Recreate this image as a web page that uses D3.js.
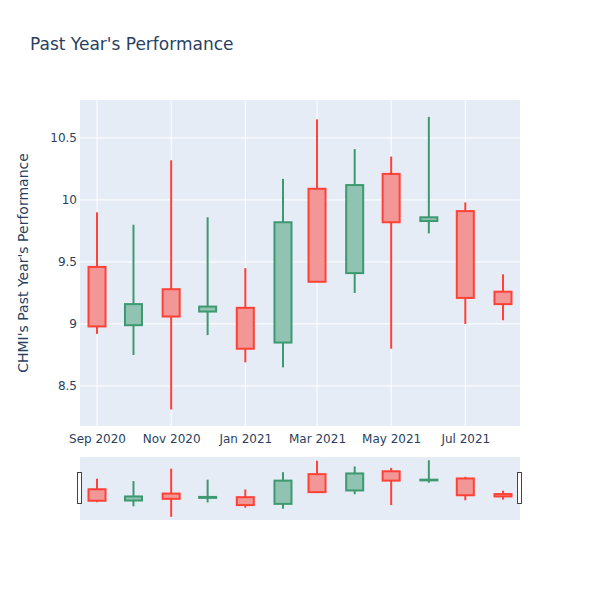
<!DOCTYPE html>
<html>
<head>
<meta charset="utf-8">
<script src="https://cdn.jsdelivr.net/npm/d3@7"></script>
<style>
  html, body { margin: 0; padding: 0; background: #fff; }
  svg { display: block; font-family: "DejaVu Sans", verdana, arial, sans-serif; }
</style>
</head>
<body>
<svg id="chart" width="600" height="600"></svg>
<script>
// ---- data ----
const dates = ["2020-09-01","2020-10-01","2020-11-01","2020-12-01","2021-01-01","2021-02-01",
               "2021-03-01","2021-04-01","2021-05-01","2021-06-01","2021-07-01","2021-08-01"];
const openVals  = [9.46, 8.99, 9.28, 9.10, 9.13, 8.85, 10.09, 9.41, 10.21, 9.83, 9.91, 9.26];
const highVals  = [9.90, 9.80, 10.32, 9.86, 9.45, 10.17, 10.65, 10.41, 10.35, 10.67, 9.98, 9.40];
const lowVals   = [8.92, 8.75, 8.31, 8.91, 8.69, 8.65, 9.34, 9.25, 8.80, 9.73, 9.00, 9.03];
const closeVals = [8.98, 9.16, 9.06, 9.14, 8.80, 9.82, 9.34, 10.12, 9.82, 9.86, 9.21, 9.16];
const yTicks = [8.5, 9, 9.5, 10, 10.5];
const xTickDates = ["2020-09-01","2020-11-01","2021-01-01","2021-03-01","2021-05-01","2021-07-01"];
const titleText = "Past Year's Performance";
const yTitleText = "CHMI's Past Year's Performance";

const FONT = "DejaVu Sans, verdana, arial, sans-serif";
const parse = d3.utcParse("%Y-%m-%d");
const data = dates.map((d, i) => ({
  date: parse(d), open: openVals[i], high: highVals[i], low: lowVals[i], close: closeVals[i]
}));

const inc = "#3D9970", dec = "#FF4136";
const svg = d3.select("#chart");

const plot = {left: 80, right: 520, top: 100, bottom: 426};
const slider = {top: 457, bottom: 520};

const x = d3.scaleUtc()
  .domain([parse("2020-08-18"), parse("2021-08-15")])
  .range([plot.left, plot.right]);
const y = d3.scaleLinear().domain([8.177, 10.806]).range([plot.bottom, plot.top]);
const ys = d3.scaleLinear().domain([8.177, 10.806]).range([slider.bottom, slider.top]);

// title
svg.append("text").attr("x", 30).attr("y", 50)
  .attr("font-size", 17).attr("fill", "#2a3f5f").attr("font-family", FONT).text(titleText);

// plot background
svg.append("rect").attr("x", plot.left).attr("y", plot.top)
  .attr("width", plot.right - plot.left).attr("height", plot.bottom - plot.top)
  .attr("fill", "#e5ecf6");

// grid lines
const xt = xTickDates.map(parse);
svg.append("g").selectAll("line").data(xt).join("line")
  .attr("x1", d => x(d)).attr("x2", d => x(d))
  .attr("y1", plot.top).attr("y2", plot.bottom)
  .attr("stroke", "#fff").attr("stroke-width", 1);
svg.append("g").selectAll("line").data(yTicks).join("line")
  .attr("x1", plot.left).attr("x2", plot.right)
  .attr("y1", d => y(d)).attr("y2", d => y(d))
  .attr("stroke", "#fff").attr("stroke-width", 1);

// axes (labels only)
const xAxis = d3.axisBottom(x).tickValues(xt).tickFormat(d3.utcFormat("%b %Y")).tickSize(0).tickPadding(8);
const gx = svg.append("g").attr("transform", `translate(0,${plot.bottom})`).call(xAxis);
gx.select(".domain").remove();
gx.selectAll("text").attr("font-size", 12).attr("fill", "#2a3f5f").attr("font-family", FONT);

const yAxis = d3.axisLeft(y).tickValues(yTicks).tickFormat(d => String(d)).tickSize(0).tickPadding(3);
const gy = svg.append("g").attr("transform", `translate(${plot.left},0)`).call(yAxis);
gy.select(".domain").remove();
gy.selectAll("text").attr("font-size", 12).attr("fill", "#2a3f5f").attr("font-family", FONT);

// y title
svg.append("text")
  .attr("transform", `translate(28,${(plot.top + plot.bottom) / 2}) rotate(-90)`)
  .attr("text-anchor", "middle").attr("font-size", 14).attr("fill", "#2a3f5f")
  .attr("font-family", FONT)
  .text(yTitleText);

// candle width in days
const halfDays = 7 * 24 * 3600 * 1000;
function drawCandles(g, yScale) {
  const c = g.selectAll("g.candle").data(data).join("g").attr("class", "candle");
  const col = d => d.close >= d.open ? inc : dec;
  c.append("line")
    .attr("x1", d => x(d.date)).attr("x2", d => x(d.date))
    .attr("y1", d => yScale(d.high)).attr("y2", d => yScale(d.low))
    .attr("stroke", col).attr("stroke-width", 2);
  c.append("rect")
    .attr("x", d => x(new Date(d.date.getTime() - halfDays)))
    .attr("width", d => x(new Date(d.date.getTime() + halfDays)) - x(new Date(d.date.getTime() - halfDays)))
    .attr("y", d => yScale(Math.max(d.open, d.close)))
    .attr("height", d => Math.max(0.5, Math.abs(yScale(d.open) - yScale(d.close))))
    .attr("fill", "#e5ecf6")
    .attr("stroke", "none");
  c.append("rect")
    .attr("x", d => x(new Date(d.date.getTime() - halfDays)))
    .attr("width", d => x(new Date(d.date.getTime() + halfDays)) - x(new Date(d.date.getTime() - halfDays)))
    .attr("y", d => yScale(Math.max(d.open, d.close)))
    .attr("height", d => Math.max(0.5, Math.abs(yScale(d.open) - yScale(d.close))))
    .attr("fill", col).attr("fill-opacity", 0.5)
    .attr("stroke", col).attr("stroke-width", 2);
}
drawCandles(svg.append("g"), y);

// range slider
svg.append("rect").attr("x", plot.left).attr("y", slider.top)
  .attr("width", plot.right - plot.left).attr("height", slider.bottom - slider.top)
  .attr("fill", "#e5ecf6");
drawCandles(svg.append("g"), ys);
const midS = (slider.top + slider.bottom) / 2;
[plot.left, plot.right].forEach(px => {
  svg.append("rect").attr("x", px - 2.5).attr("y", midS - 16)
    .attr("width", 4).attr("height", 31)
    .attr("fill", "#fff").attr("stroke", "#444").attr("stroke-width", 1)
    .attr("shape-rendering", "crispEdges");
});
</script>
</body>
</html>
